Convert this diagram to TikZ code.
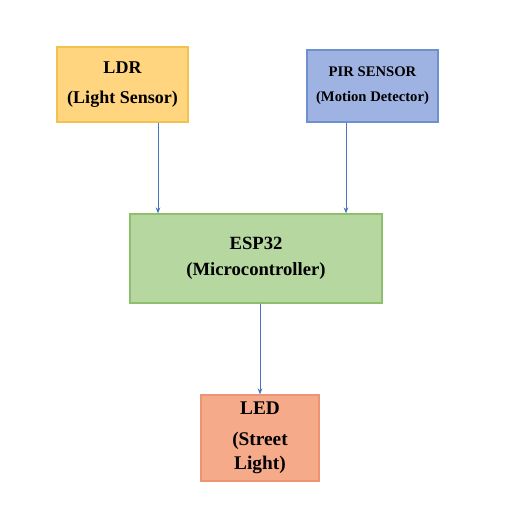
\documentclass[tikz,border=0pt]{standalone}
\usepackage{fontspec}
\setmainfont{Liberation Serif}
\usetikzlibrary{arrows.meta}
\definecolor{ldrfill}{HTML}{FFD580}
\definecolor{ldrdraw}{HTML}{F2C14E}
\definecolor{pirfill}{HTML}{9FB3E3}
\definecolor{pirdraw}{HTML}{6F8FCF}
\definecolor{espfill}{HTML}{B6D7A0}
\definecolor{espdraw}{HTML}{8DBF6C}
\definecolor{ledfill}{HTML}{F5AA8A}
\definecolor{leddraw}{HTML}{EF9472}
\definecolor{arrowblue}{HTML}{4A72C0}
\tikzset{
  blockbox/.style={rectangle, line width=0.9pt, align=center, inner sep=0pt},
  conn/.style={draw=arrowblue, line width=0.75pt, -{Stealth[length=4.5pt,width=3.5pt]}}
}
\begin{document}
\begin{tikzpicture}[x=0.75pt,y=-0.75pt]
\useasboundingbox[fill=white] (0,0) rectangle (514,517);
\node[blockbox, fill=ldrfill, draw=ldrdraw, minimum width=131*0.75pt, minimum height=75*0.75pt,
  font=\fontsize{13.5pt}{22.5pt}\selectfont\bfseries] (ldr) at (122.5,84.5) {LDR\\(Light Sensor)};
\node[blockbox, fill=pirfill, draw=pirdraw, minimum width=131*0.75pt, minimum height=72*0.75pt,
  font=\fontsize{11pt}{19pt}\selectfont\bfseries] (pir) at (372.5,86) {PIR SENSOR\\(Motion Detector)};
\node[blockbox, fill=espfill, draw=espdraw, minimum width=252*0.75pt, minimum height=89*0.75pt,
  font=\fontsize{14pt}{19.5pt}\selectfont\bfseries] (esp) at (256,258.5) {ESP32\\(Microcontroller)};
\node[blockbox, fill=ledfill, draw=leddraw, minimum width=118*0.75pt, minimum height=86*0.75pt,
  font=\fontsize{14.5pt}{18pt}\selectfont\bfseries] (led) at (260,438) {LED\\[5pt](Street\\Light)};
\coordinate (xa) at (158,0);
\coordinate (xb) at (346,0);
\coordinate (xc) at (260,0);
\draw[conn] (ldr.south -| xa) -- (esp.north -| xa);
\draw[conn] (pir.south -| xb) -- (esp.north -| xb);
\draw[conn] (esp.south -| xc) -- (led.north -| xc);
\end{tikzpicture}
\end{document}
